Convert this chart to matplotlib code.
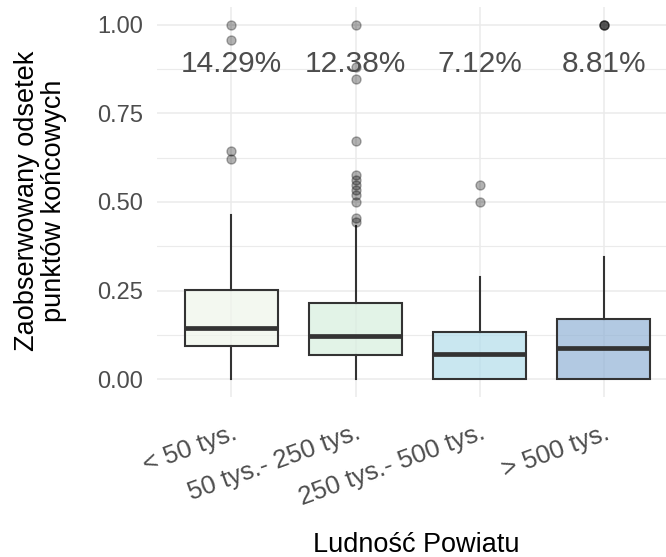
import matplotlib
matplotlib.use("Agg")
import matplotlib.pyplot as plt
import numpy as np

plt.rcParams['font.family'] = ['Liberation Sans', 'DejaVu Sans']

categories = ["< 50 tys.", "50 tys.- 250 tys.", "250 tys.- 500 tys.", "> 500 tys."]
q1 = [0.094, 0.068, 0.0, 0.0]
medians = [0.144, 0.123, 0.072, 0.088]
q3 = [0.251, 0.214, 0.132, 0.169]
whis_lo = [0.0, 0.0, 0.0, 0.0]
whis_hi = [0.463, 0.432, 0.289, 0.344]
outliers = [
    [1.0, 0.958, 0.645, 0.621],
    [1.0, 0.882, 0.847, 0.673, 0.576, 0.562, 0.548, 0.534, 0.52, 0.501, 0.455, 0.445],
    [0.548, 0.499],
    [1.0, 1.0, 1.0],
]
pct_labels = ["14.29%", "12.38%", "7.12%", "8.81%"]
fills = ["#eff6eb", "#d7eede", "#b2ddeb", "#92b3d6"]

W, H = 666, 557
fig = plt.figure(figsize=(W / 100, H / 100), dpi=100)
left, right, top, bottom = 157, 666, 7, 397
ax = fig.add_axes([left / W, 1 - bottom / H, (right - left) / W, (bottom - top) / H])
for s in ax.spines.values():
    s.set_visible(False)

pos = np.arange(1, len(categories) + 1)
stats = []
for i in range(len(categories)):
    stats.append(dict(med=medians[i], q1=q1[i], q3=q3[i], whislo=whis_lo[i],
                      whishi=whis_hi[i], fliers=outliers[i], label=categories[i]))

bp = ax.bxp(stats, positions=pos, widths=0.75, patch_artist=True, showcaps=False,
            manage_ticks=False,
            boxprops=dict(edgecolor="#333333", linewidth=1.5),
            medianprops=dict(color="#333333", linewidth=3.4, solid_capstyle='butt'),
            whiskerprops=dict(color="#333333", linewidth=1.5),
            flierprops=dict(marker='o', markersize=6.5, markerfacecolor='black',
                            markeredgecolor='black', alpha=0.3, linestyle='none'))
for patch, c in zip(bp['boxes'], fills):
    rgba = matplotlib.colors.to_rgba(c, 0.7)
    patch.set_facecolor(rgba)
    patch.set_zorder(2)

grid_c = "#ebebeb"
ax.set_xlim(0.4, 4.5)
ax.set_ylim(-0.05, 1.05)
ax.set_yticks([0, 0.25, 0.5, 0.75, 1.0])
ax.set_yticklabels(["0.00", "0.25", "0.50", "0.75", "1.00"])
ax.set_yticks([0.125, 0.375, 0.625, 0.875], minor=True)
ax.set_xticks(pos)
ax.set_xticks([], minor=True)
ax.set_xticklabels(categories)
ax.grid(True, which='major', color=grid_c, lw=1.1, zorder=0)
ax.grid(True, which='minor', axis='y', color=grid_c, lw=0.8, zorder=0)
ax.set_axisbelow(True)

for x, t in zip(pos, pct_labels):
    ax.text(x, 0.89, t, ha='center', va='center', fontsize=21.5, color="#4d4d4d", zorder=5)

ax.tick_params(axis='both', which='both', length=0)
ax.tick_params(axis='y', labelsize=17, labelcolor="#4d4d4d", pad=10)
ax.tick_params(axis='x', labelsize=18.5, labelcolor="#4d4d4d", pad=17)
for lab in ax.get_xticklabels():
    lab.set_rotation(20)
    lab.set_ha('right')
    lab.set_va('top')
    lab.set_rotation_mode('anchor')

fig.text(41 / W, 1 - 201 / H, "Zaobserwowany odsetek\npunktów końcowych", rotation=90,
         ha='center', va='center', fontsize=19.5, color='black', multialignment='center',
         linespacing=1.05)
fig.text(416 / W, 1 - 545 / H, "Ludność Powiatu", ha='center', va='center',
         fontsize=19.5, color='black')

fig.savefig("out.png", dpi=100, facecolor='white')
